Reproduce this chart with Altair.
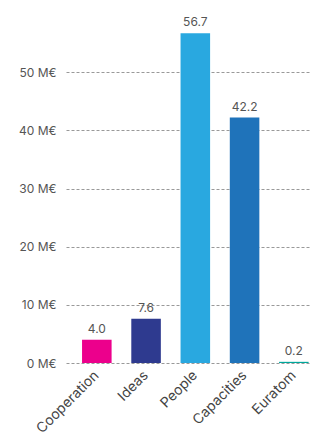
import altair as alt
import pandas as pd

categories = ["Cooperation", "Ideas", "People", "Capacities", "Euratom"]
values = [4.0, 7.6, 56.7, 42.2, 0.2]
colors = ["#EC008C", "#2E3A8F", "#29A8E0", "#1F73BA", "#00A99D"]
tick_values = [0, 10, 20, 30, 40, 50]

df = pd.DataFrame({"cat": categories, "val": values})

FONT = "Inter"

x = alt.X(
    "cat:N",
    sort=categories,
    title=None,
    scale=alt.Scale(paddingInner=0.4, paddingOuter=0.177, align=0.92),
    axis=alt.Axis(
        labelAngle=-45,
        labelAlign="right",
        labelBaseline="middle",
        labelFontSize=14,
        labelFont=FONT,
        labelColor="#444444",
        labelPadding=10,
        ticks=False,
        domain=False,
        grid=False,
    ),
)
y = alt.Y(
    "val:Q",
    title=None,
    scale=alt.Scale(domain=[0, 60], nice=False),
    axis=alt.Axis(
        values=tick_values,
        labelExpr="datum.value + ' M€'",
        labelFontSize=12,
        labelFont=FONT,
        labelColor="#555555",
        labelPadding=10,
        ticks=False,
        domain=False,
        grid=True,
        gridColor="#999999",
        gridDash=[3, 2],
        gridWidth=1,
        minExtent=58,
        maxExtent=58,
    ),
)

bars = alt.Chart(df).mark_bar().encode(
    x=x,
    y=y,
    color=alt.Color("cat:N", scale=alt.Scale(domain=categories, range=colors), legend=None),
)
labels = alt.Chart(df).mark_text(
    dy=-4, fontSize=12, font=FONT, color="#555555", baseline="bottom"
).encode(
    x=alt.X("cat:N", sort=categories),
    y=alt.Y("val:Q"),
    text=alt.Text("val:Q", format=".1f"),
)

chart = (
    alt.layer(bars, labels)
    .properties(
        width=244,
        height=349,
        padding={"left": 0, "top": 6, "right": 0, "bottom": 0},
    )
    .configure_view(stroke=None)
)

chart.save("out.html", embed_options={"renderer": "svg", "actions": False})
